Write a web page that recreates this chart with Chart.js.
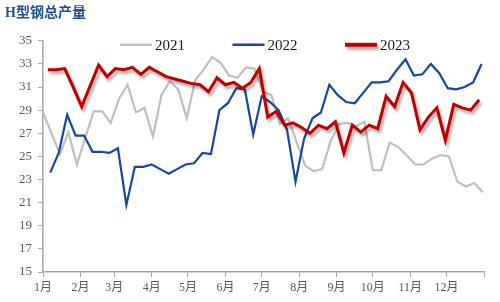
<!DOCTYPE html>
<html>
<head>
<meta charset="utf-8">
<script src="https://cdn.jsdelivr.net/npm/chart.js@4/dist/chart.umd.min.js"></script>
<style>
  body { margin: 0; background: #fff; }
  #wrap { width: 500px; height: 302px; }
</style>
</head>
<body>
<div id="wrap"><canvas id="myChart" width="500" height="302"></canvas></div>
<script>
// weekly output
const years = ["2021", "2022", "2023"];
const firstDay = [0, 6, 4];   // day of year of the first weekly reading
const dayStep = 7;

const values2021 = [28.8, 27.0, 25.2, 27.1, 24.3, 26.6, 28.9, 28.9, 27.9, 30.0,
                    31.2, 28.8, 29.2, 26.7, 30.3, 31.5, 30.8, 28.3, 31.6, 32.5,
                    33.6, 33.1, 32.0, 31.8, 32.7, 32.6, 30.6, 30.3, 27.8, 28.3,
                    26.2, 24.2, 23.7, 23.9, 26.3, 27.8, 27.9, 27.6, 28.0, 23.8,
                    23.8, 26.2, 25.8, 25.1, 24.3, 24.3, 24.8, 25.1, 25.0, 22.8,
                    22.4, 22.7, 21.9];
const values2022 = [23.6, 25.3, 28.6, 26.8, 26.8, 25.4, 25.4, 25.3, 25.7, 20.8,
                    24.1, 24.1, 24.3, 23.9, 23.5, 23.9, 24.3, 24.4, 25.3, 25.2,
                    29.0, 29.6, 30.9, 30.8, 26.9, 30.2, 29.7, 29.0, 27.3, 22.8,
                    26.5, 28.3, 28.8, 31.2, 30.3, 29.7, 29.6, 30.5, 31.4, 31.4,
                    31.5, 32.5, 33.4, 32.0, 32.1, 33.0, 32.2, 30.9, 30.8, 31.0,
                    31.4, 33.0];
const values2023 = [32.5, 32.5, 32.6, 31.0, 29.3, 31.1, 32.9, 31.9, 32.6, 32.5,
                    32.7, 32.1, 32.7, 32.3, 31.9, 31.7, 31.5, 31.3, 31.2, 30.6,
                    31.8, 31.2, 31.4, 30.9, 31.4, 32.6, 28.4, 28.9, 27.7, 27.9,
                    27.5, 27.0, 27.7, 27.4, 28.0, 25.3, 27.7, 27.1, 27.7, 27.4,
                    30.2, 29.3, 31.4, 30.5, 27.3, 28.4, 29.2, 26.4, 29.5, 29.2,
                    29.0, 29.9];

const monthLabels = ["1月", "2月", "3月", "4月", "5月", "6月", "7月", "8月", "9月", "10月", "11月", "12月", ""];
const monthStartDays = [0, 31, 59, 90, 120, 151, 181, 212, 243, 273, 304, 334, 365];
const yTicks = [15, 17, 19, 21, 23, 25, 27, 29, 31, 33, 35];

const lineColors = ["#BFBFBF", "#17469A", "#C00000"];
const lineWidths = [2.2, 2.2, 3];

function toPoints(values, start)
{
    return values.map((v, i) => ({ x: start + i * dayStep, y: v }));
}

const allValues = [values2021, values2022, values2023];
const datasets = years.map((yr, k) => ({
    label: yr,
    data: toPoints(allValues[k], firstDay[k]),
    borderColor: lineColors[k],
    borderWidth: lineWidths[k],
    pointRadius: 0,
    tension: 0,
    fill: false,
    order: 3 - k,
    shadow: k === 2
}));

const serif = "'Liberation Serif', 'Noto Sans CJK SC', serif";

// red line has a soft drop shadow
const shadowPlugin = {
    id: 'shadow',
    beforeDatasetDraw(chart, args) {
        const ds = chart.data.datasets[args.index];
        if (!ds.shadow) return;
        const ctx = chart.ctx;
        ctx.save();
        ctx.shadowColor = 'rgba(0,0,0,0.35)';
        ctx.shadowBlur = 3;
        ctx.shadowOffsetX = 2;
        ctx.shadowOffsetY = 3;
    },
    afterDatasetDraw(chart, args) {
        const ds = chart.data.datasets[args.index];
        if (ds.shadow) chart.ctx.restore();
    }
};

// legend sits inside the plot, at the top
const innerLegend = {
    id: 'innerLegend',
    afterDatasetsDraw(chart) {
        const ctx = chart.ctx;
        const area = chart.chartArea;
        const y = area.top + 4;
        ctx.save();
        ctx.font = "15px " + serif;
        ctx.textBaseline = 'middle';
        chart.data.datasets.forEach((ds, i) => {
            const x = area.left + 77 + i * 112.5;
            ctx.save();
            if (ds.shadow) {
                ctx.shadowColor = 'rgba(0,0,0,0.35)';
                ctx.shadowBlur = 3;
                ctx.shadowOffsetX = 2;
                ctx.shadowOffsetY = 3;
            }
            ctx.strokeStyle = ds.borderColor;
            ctx.lineWidth = ds.shadow ? 4 : 2.5;
            ctx.beginPath();
            ctx.moveTo(x, y);
            ctx.lineTo(x + 32, y);
            ctx.stroke();
            ctx.restore();
            ctx.fillStyle = '#1a1a1a';
            ctx.fillText(ds.label, x + 35, y + 1);
        });
        ctx.restore();
    }
};

new Chart("myChart", {
    type: "line",
    data: { datasets: datasets },
    options: {
        responsive: false,
        animation: false,
        layout: { padding: { left: 5, right: 16, top: 0, bottom: 0 } },
        plugins: {
            legend: { display: false },
            tooltip: { enabled: false },
            title: {
                display: true,
                text: "H型钢总产量",
                align: 'start',
                color: '#1F4E96',
                font: { family: serif, size: 14, weight: 'bold' },
                padding: { top: 5, bottom: 19 }
            }
        },
        scales: {
            x: {
                type: 'linear',
                min: 0,
                max: 365,
                afterBuildTicks: s => { s.ticks = monthStartDays.map(d => ({ value: d })); },
                afterFit: s => { s.height = 30; },
                ticks: {
                    autoSkip: false,
                    maxRotation: 0,
                    color: '#595959',
                    font: { family: serif, size: 12 },
                    padding: 4,
                    callback: (v, i) => monthLabels[i]
                },
                grid: { display: true, drawOnChartArea: false, tickLength: 5, color: '#A6A6A6' },
                border: { color: '#A6A6A6', width: 1.5 }
            },
            y: {
                min: 15,
                max: 35,
                afterBuildTicks: s => { s.ticks = yTicks.map(v => ({ value: v })); },
                afterFit: s => { s.width = 38; },
                ticks: {
                    color: '#595959',
                    font: { family: serif, size: 13 },
                    padding: 6
                },
                grid: { display: true, drawOnChartArea: false, tickLength: 5, color: '#A6A6A6' },
                border: { color: '#A6A6A6', width: 1.5 }
            }
        }
    },
    plugins: [shadowPlugin, innerLegend]
});
</script>
</body>
</html>
